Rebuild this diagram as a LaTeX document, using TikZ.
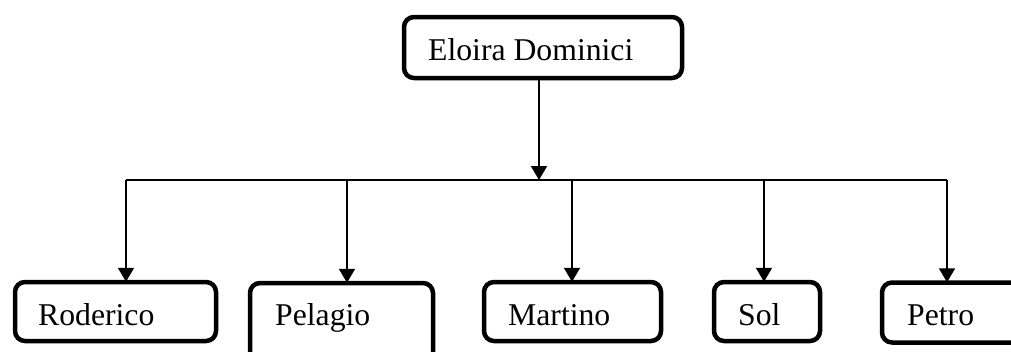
\documentclass[tikz,border=0pt]{standalone}
\usepackage{fontspec}
\setmainfont{Liberation Serif}
\usetikzlibrary{arrows.meta}
\begin{document}
\begin{tikzpicture}[x=1pt,y=-1pt,
  box/.style={draw=black, line width=4.5pt, rounded corners=10pt, fill=white, inner sep=0pt},
  lbl/.style={anchor=base west, inner sep=0pt, font=\fontsize{31.7}{38}\selectfont},
  conn/.style={line width=2pt, -{Triangle[width=16pt,length=14pt]}},
  bus/.style={line width=1.6pt}]
\useasboundingbox (0,0) rectangle (1011,351);
\clip (0,0) rectangle (1011,351);
% boxes
\node[box, minimum width=278pt, minimum height=61pt] (top) at (543,47.5) {};
\node[box, minimum width=201pt, minimum height=59pt] (rod) at (115.5,311.5) {};
\node[box, minimum width=183pt, minimum height=85pt] (pel) at (341.5,325.5) {};
\node[box, minimum width=177pt, minimum height=59pt] (mar) at (572.5,311.5) {};
\node[box, minimum width=106pt, minimum height=59pt] (sol) at (767,311.5) {};
\node[box, minimum width=160pt, minimum height=60pt] (pet) at (962,312.5) {};
% labels
\node[lbl] (topt) at (428,60) {Eloira Dominici};
\node[lbl] (rodt) at (38,325) {Roderico};
\node[lbl] (pelt) at (275,325) {Pelagio};
\node[lbl] (mart) at (508,325) {Martino};
\node[lbl] (solt) at (738,325) {Sol};
\node[lbl] (pett) at (907,325) {Petro};
% bus coordinates
\coordinate (tap) at (539,180);
\coordinate (bl) at (126,180);
\coordinate (b2) at (347,180);
\coordinate (b3) at (572,180);
\coordinate (b4) at (764,180);
\coordinate (br) at (947,180);
\draw[bus] (bl) -- (br);
\draw[conn] (top.south -| tap) -- (tap);
\draw[conn] (bl) -- ([yshift=-2pt]rod.north -| bl);
\draw[conn] (b2) -- ([yshift=-2pt]pel.north -| b2);
\draw[conn] (b3) -- ([yshift=-2pt]mar.north -| b3);
\draw[conn] (b4) -- ([yshift=-2pt]sol.north -| b4);
\draw[conn] (br) -- ([yshift=-2pt]pet.north -| br);
\end{tikzpicture}
\end{document}
